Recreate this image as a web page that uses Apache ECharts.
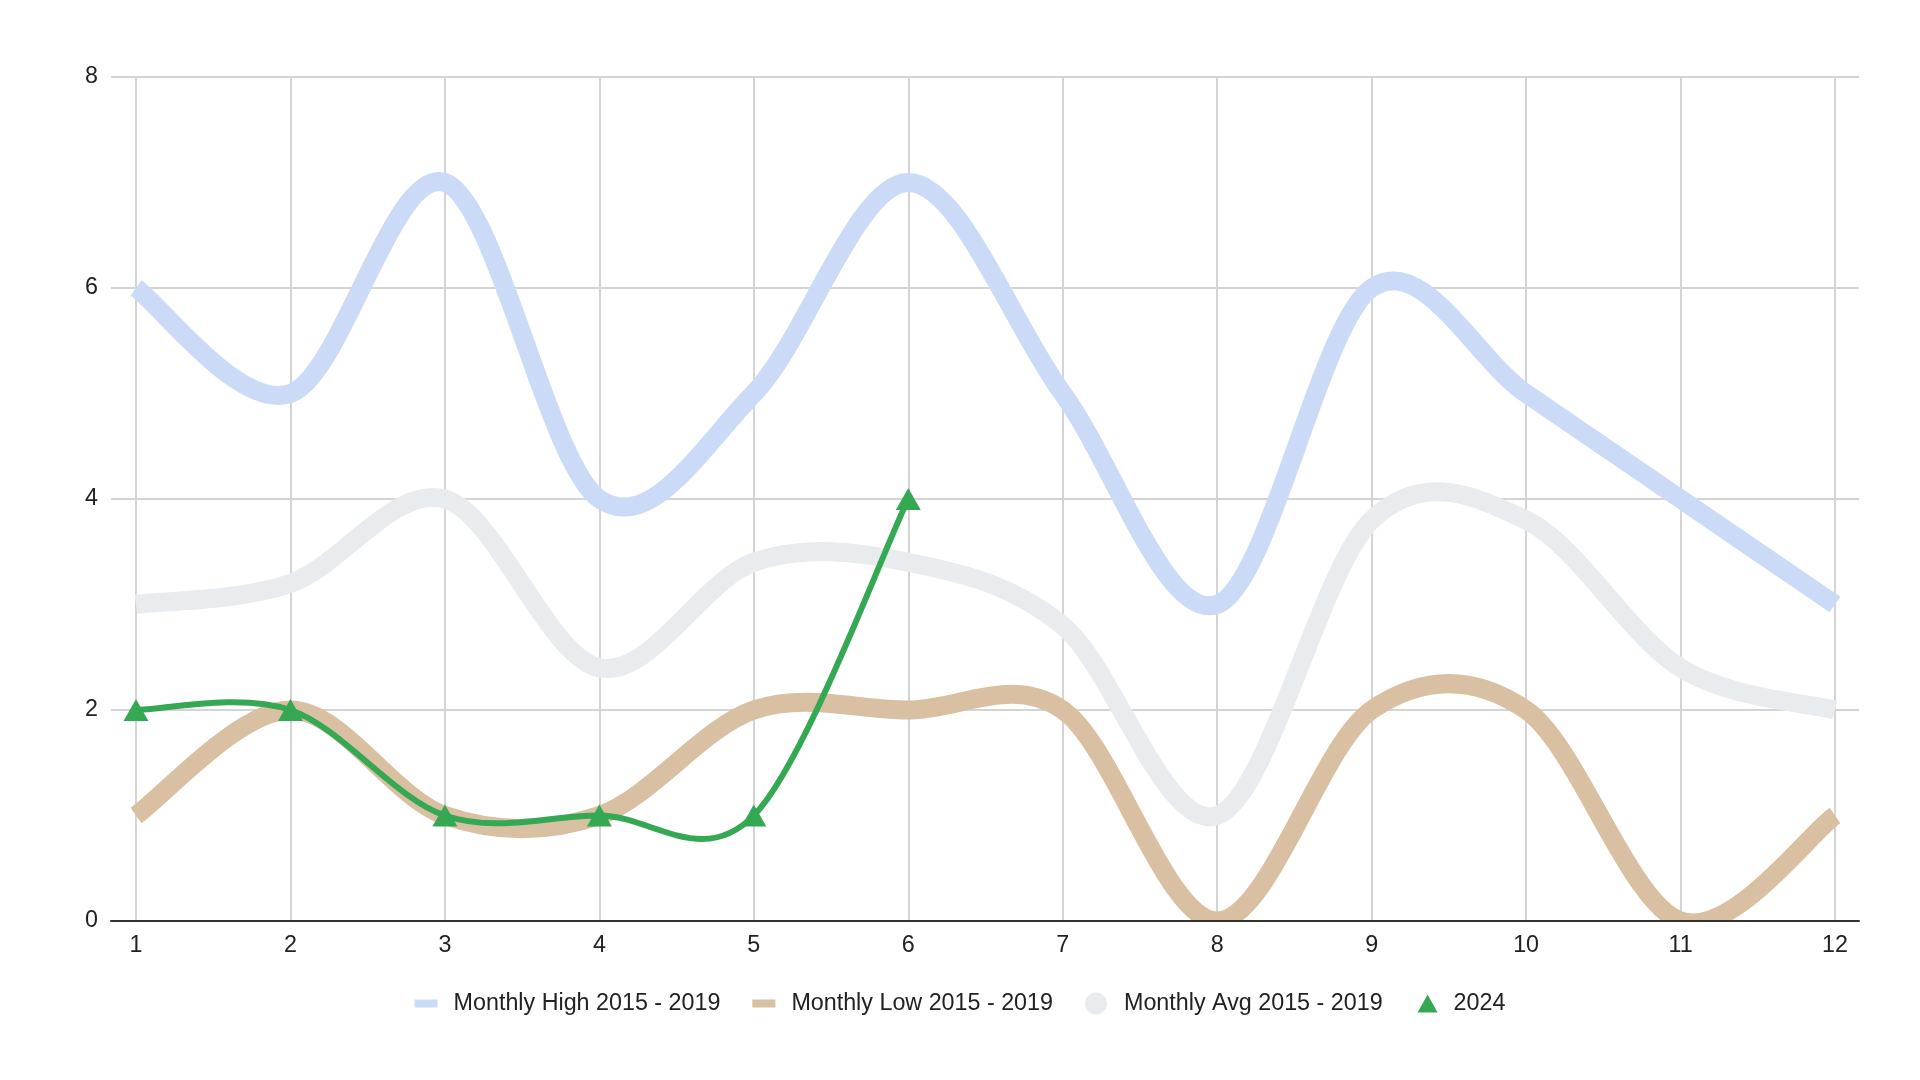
<!DOCTYPE html>
<html><head><meta charset="utf-8">
<script src="https://cdn.jsdelivr.net/npm/echarts@6/dist/echarts.min.js"></script>
<style>html,body{margin:0;padding:0;background:#fff}#c{width:1920px;height:1080px}</style>
</head><body><div id="c"></div>
<script>
const months = ['1','2','3','4','5','6','7','8','9','10','11','12'];
const seriesNames = ['Monthly High 2015 - 2019','Monthly Low 2015 - 2019','Monthly Avg 2015 - 2019','2024'];
const monthlyHigh = [6,5,7,4,5,7,5,3,6,5,4,3];
const monthlyLow = [1,2,1,1,2,2,2,0,2,2,0,1];
const monthlyAvg = [3,3.2,4,2.4,3.4,3.4,2.8,1,3.8,3.8,2.4,2];
const values2024 = [2,2,1,1,1,4];
const yMin = 0, yMax = 8, yStep = 2;

const FONT = 'Liberation Sans, Arial, sans-serif';
const FS = 23.3;
const pad = 'M0,0 L0,0 M34,22 L34,22 ';
const icons = [
  'path://' + pad + 'M0,7 L23,7 L23,15 L0,15 Z',
  'path://' + pad + 'M0,7 L23,7 L23,15 L0,15 Z',
  'path://' + pad + 'M0,11 A11,11 0 1,1 22,11 A11,11 0 1,1 0,11 Z',
  'path://' + pad + 'M13,2 L23,20 L3,20 Z'
];
const colors = ['#cbdbf7','#d9c0a3','#e8ecef','#34a853'];

// Smooth curve through the data points (Catmull-Rom), positioned by the axes via api.coord
function curveRenderer(values, color, width) {
  return function (params, api) {
    if (params.dataIndex !== 0) return null;
    const pts = values.map((v, i) => api.coord([i, v]));
    const n = pts.length;
    let d = 'M' + pts[0][0] + ',' + pts[0][1];
    for (let i = 0; i < n - 1; i++) {
      const p0 = pts[Math.max(i - 1, 0)], p1 = pts[i], p2 = pts[i + 1], p3 = pts[Math.min(i + 2, n - 1)];
      const c1x = p1[0] + (p2[0] - p0[0]) / 6, c1y = p1[1] + (p2[1] - p0[1]) / 6;
      const c2x = p2[0] - (p3[0] - p1[0]) / 6, c2y = p2[1] - (p3[1] - p1[1]) / 6;
      d += ' C' + c1x + ',' + c1y + ' ' + c2x + ',' + c2y + ' ' + p2[0] + ',' + p2[1];
    }
    const cs = params.coordSys;
    return {
      type: 'path',
      shape: {pathData: d},
      style: {fill: null, stroke: color, lineWidth: width, lineCap: 'butt', lineJoin: 'round'},
      clipPath: {type: 'rect', shape: {x: cs.x - 40, y: cs.y, width: cs.width + 80, height: cs.height}}
    };
  };
}
function curveSeries(name, values, color, width) {
  return {
    name: name, type: 'custom', xAxisIndex: 1, yAxisIndex: 1,
    data: values.map((v, i) => [i, v]),
    renderItem: curveRenderer(values, color, width),
    itemStyle: {color: color}, silent: true
  };
}

const chart = echarts.init(document.getElementById('c'), null, {renderer:'canvas'});
chart.setOption({
  animation: false,
  textStyle: {fontFamily: FONT},
  legend: {
    top: 987, left: 'center',
    itemWidth: 34, itemHeight: 22, itemGap: 32,
    textStyle: {fontSize: FS, color: '#222', fontFamily: FONT},
    itemStyle: {borderWidth: 0},
    data: seriesNames.map((n,i)=>({name:n, icon: icons[i], itemStyle:{color: colors[i], borderWidth:0, opacity:1}}))
  },
  grid: [
    {left: 111, right: 61, top: 77, bottom: 159},
    {left: 136, right: 85, top: 77, bottom: 159}
  ],
  xAxis: [
    {gridIndex: 0, type: 'value', min: 0, max: 1, axisLabel:{show:false}, axisTick:{show:false}, splitLine:{show:false},
     axisLine:{show:true, onZero:false, lineStyle:{color:'#333', width:2}}, z: 5},
    {gridIndex: 1, type: 'category', boundaryGap: false, data: months,
     axisLine:{show:false}, axisTick:{show:false},
     axisLabel:{fontSize:FS, color:'#222', margin:13, fontFamily: FONT},
     splitLine:{show:true, lineStyle:{color:'#d4d4d4', width:2}}, z: 1}
  ],
  yAxis: [
    {gridIndex: 0, type: 'value', min: yMin, max: yMax, interval: yStep,
     axisLine:{show:false}, axisTick:{show:false},
     axisLabel:{fontSize:FS, color:'#222', margin:13, fontFamily: FONT},
     splitLine:{show:true, lineStyle:{color:'#d4d4d4', width:2}}},
    {gridIndex: 1, type: 'value', min: yMin, max: yMax, interval: yStep, show: false, splitLine:{show:false}}
  ],
  series: [
    curveSeries(seriesNames[0], monthlyHigh, colors[0], 19),
    curveSeries(seriesNames[1], monthlyLow, colors[1], 19),
    curveSeries(seriesNames[2], monthlyAvg, colors[2], 19),
    curveSeries(seriesNames[3], values2024, colors[3], 6),
    {name: seriesNames[3], type:'scatter', xAxisIndex:1, yAxisIndex:1, data: values2024,
     symbol:'triangle', symbolSize:[25,22], itemStyle:{color: colors[3], borderWidth:0, opacity:1}, silent: true}
  ]
});
</script></body></html>
